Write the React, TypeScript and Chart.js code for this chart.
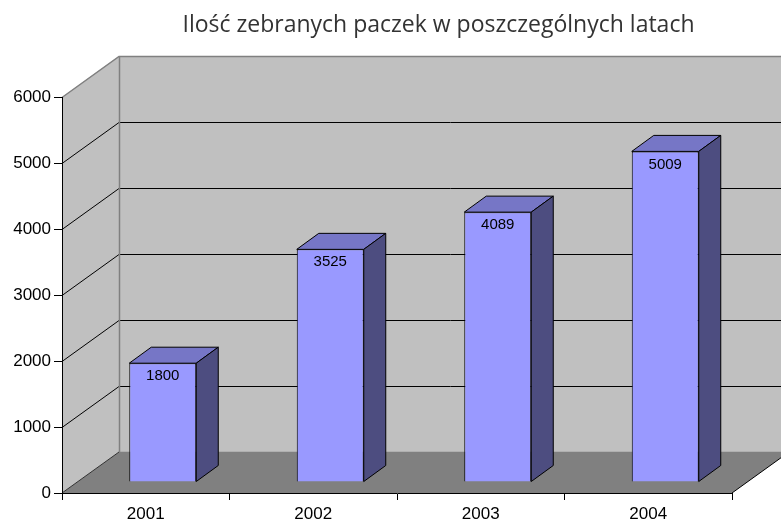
import React, { useEffect, useRef } from 'react';
import { Chart, registerables } from 'chart.js';

Chart.register(...registerables);

const title = 'Ilość zebranych paczek w poszczególnych latach';
const categories = ['2001', '2002', '2003', '2004'];
const values = [1800, 3525, 4089, 5009];
const yMin = 0;
const yMax = 6000;
const yStep = 1000;

// 3D projection constants
const DEPTH_X = 57;
const DEPTH_Y = -41;
const BAR_SHIFT_X = 17;
const BAR_SHIFT_Y = -11;
const BAR_DEPTH_X = 22;
const BAR_DEPTH_Y = -16;

const WALL = '#c0c0c0';
const FLOOR = '#808080';
const BAR_FRONT = '#9999ff';
const BAR_TOP = '#7676c6';
const BAR_SIDE = '#4d4d80';
const FONT = 'Arial, "Liberation Sans", sans-serif';

const threeD = {
  id: 'threeD',
  beforeDraw(chart: any) {
    const { ctx, chartArea } = chart;
    const { left, right, top, bottom } = chartArea;
    const ys = chart.scales.y;
    ctx.save();
    // left wall
    ctx.fillStyle = WALL;
    ctx.beginPath();
    ctx.moveTo(left, top);
    ctx.lineTo(left + DEPTH_X, top + DEPTH_Y);
    ctx.lineTo(left + DEPTH_X, bottom + DEPTH_Y);
    ctx.lineTo(left, bottom);
    ctx.closePath();
    ctx.fill();
    // back wall
    ctx.fillRect(left + DEPTH_X, top + DEPTH_Y, right - left, bottom - top);
    // floor
    ctx.fillStyle = FLOOR;
    ctx.beginPath();
    ctx.moveTo(left, bottom);
    ctx.lineTo(left + DEPTH_X, bottom + DEPTH_Y);
    ctx.lineTo(right + DEPTH_X, bottom + DEPTH_Y);
    ctx.lineTo(right, bottom);
    ctx.closePath();
    ctx.fill();

    // gridlines
    ctx.lineWidth = 1;
    ctx.strokeStyle = '#000';
    ys.ticks.forEach((t: any) => {
      if (t.value <= yMin || t.value >= yMax) return;
      const py = Math.round(ys.getPixelForValue(t.value)) + 0.5;
      ctx.beginPath();
      ctx.moveTo(left, py);
      ctx.lineTo(left + DEPTH_X, py + DEPTH_Y);
      ctx.lineTo(right + DEPTH_X, py + DEPTH_Y);
      ctx.stroke();
    });

    // wall edges
    ctx.strokeStyle = '#808080';
    ctx.lineWidth = 1.5;
    const tY = Math.round(ys.getPixelForValue(yMax)) + 0.5;
    ctx.beginPath();
    ctx.moveTo(left, tY);
    ctx.lineTo(left + DEPTH_X, tY + DEPTH_Y);
    ctx.lineTo(right + DEPTH_X, tY + DEPTH_Y);
    ctx.stroke();
    ctx.beginPath();
    ctx.moveTo(left + DEPTH_X + 0.5, tY + DEPTH_Y);
    ctx.lineTo(left + DEPTH_X + 0.5, bottom + DEPTH_Y);
    ctx.stroke();
    ctx.beginPath();
    ctx.moveTo(left + DEPTH_X, bottom + DEPTH_Y + 0.5);
    ctx.lineTo(right + DEPTH_X, bottom + DEPTH_Y + 0.5);
    ctx.stroke();
    // floor diagonals
    ctx.strokeStyle = '#303030';
    ctx.lineWidth = 1;
    ctx.beginPath();
    ctx.moveTo(left, bottom);
    ctx.lineTo(left + DEPTH_X, bottom + DEPTH_Y);
    ctx.stroke();
    ctx.strokeStyle = '#000';
    ctx.beginPath();
    ctx.moveTo(right, bottom);
    ctx.lineTo(right + DEPTH_X, bottom + DEPTH_Y);
    ctx.stroke();

    // title
    ctx.fillStyle = '#333333';
    ctx.font = '23px "Open Sans", sans-serif';
    ctx.textAlign = 'center';
    ctx.textBaseline = 'alphabetic';
    ctx.fillText(title, 438.5, 32);
    ctx.restore();
  },
  beforeDatasetsDraw(chart: any) {
    chart.ctx.save();
    chart.ctx.translate(BAR_SHIFT_X, BAR_SHIFT_Y);
  },
  afterDatasetsDraw(chart: any) {
    const { ctx } = chart;
    const meta = chart.getDatasetMeta(0);
    ctx.lineWidth = 1;
    ctx.strokeStyle = '#000';
    meta.data.forEach((el: any, i: number) => {
      const { x, y, base, width } = el.getProps(['x', 'y', 'base', 'width'], true);
      const l = x - width / 2;
      const r = x + width / 2;
      // top face
      ctx.fillStyle = BAR_TOP;
      ctx.beginPath();
      ctx.moveTo(l, y);
      ctx.lineTo(l + BAR_DEPTH_X, y + BAR_DEPTH_Y);
      ctx.lineTo(r + BAR_DEPTH_X, y + BAR_DEPTH_Y);
      ctx.lineTo(r, y);
      ctx.closePath();
      ctx.fill();
      ctx.stroke();
      // side face
      ctx.fillStyle = BAR_SIDE;
      ctx.beginPath();
      ctx.moveTo(r, y);
      ctx.lineTo(r + BAR_DEPTH_X, y + BAR_DEPTH_Y);
      ctx.lineTo(r + BAR_DEPTH_X, base + BAR_DEPTH_Y);
      ctx.lineTo(r, base);
      ctx.closePath();
      ctx.fill();
      ctx.stroke();
      // value label
      ctx.fillStyle = '#000';
      ctx.font = '15px ' + FONT;
      ctx.textAlign = 'center';
      ctx.textBaseline = 'middle';
      ctx.fillText(String(values[i]), x, y + 13);
    });
    ctx.restore();
  },
};

export default function App() {
  const ref = useRef<HTMLCanvasElement | null>(null);
  useEffect(() => {
    if (!ref.current) return;
    const chart = new Chart(ref.current, {
      type: 'bar',
      data: {
        labels: categories,
        datasets: [
          {
            data: values,
            backgroundColor: BAR_FRONT,
            borderColor: '#000',
            borderWidth: 1,
            barPercentage: 0.4,
            categoryPercentage: 1,
            clip: false as any,
          },
        ],
      },
      options: {
        responsive: false,
        animation: false,
        devicePixelRatio: 1,
        layout: { padding: { top: 97, right: 49, left: 0, bottom: 0 } },
        plugins: {
          legend: { display: false },
          tooltip: { enabled: false },
          title: { display: false },
        },
        scales: {
          x: {
            grid: { drawOnChartArea: false, tickLength: 7, color: '#000', offset: true },
            border: { color: '#000', width: 1 },
            ticks: { color: '#000', font: { family: FONT, size: 17 }, padding: 4 },
            afterFit: (s: any) => {
              s.height = 29;
            },
          },
          y: {
            min: yMin,
            max: yMax,
            grid: { drawOnChartArea: false, tickLength: 8, color: '#000' },
            border: { color: '#000', width: 1 },
            ticks: {
              stepSize: yStep,
              color: '#000',
              font: { family: FONT, size: 17 },
              padding: 3,
              callback: (v: any) => String(v),
            },
            afterFit: (s: any) => {
              s.width = 62;
            },
          },
        },
      },
      plugins: [threeD],
    });
    return () => chart.destroy();
  }, []);
  return (
    <div style={{ position: 'absolute', left: 0, top: 0, width: 781, height: 522 }}>
      <canvas ref={ref} width={781} height={522} />
    </div>
  );
}
